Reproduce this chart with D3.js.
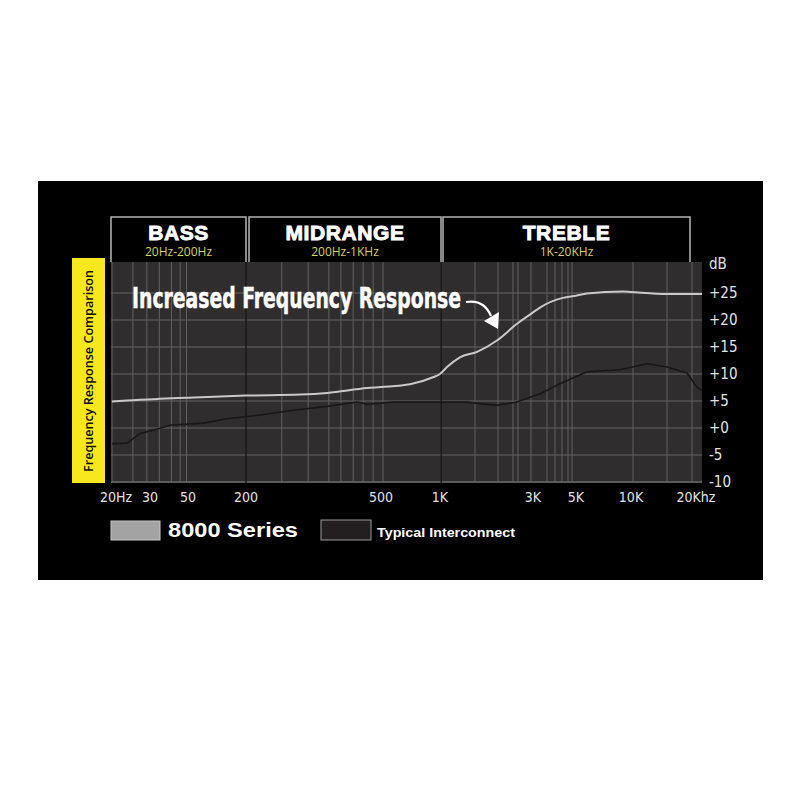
<!DOCTYPE html>
<html>
<head>
<meta charset="utf-8">
<script src="https://cdnjs.cloudflare.com/ajax/libs/d3/7.8.5/d3.min.js"></script>
<style>
body { margin: 0; background: #fff; }
</style>
</head>
<body>
<script>
// data
var freq8000 = [20, 23.5, 34, 50, 200, 289, 347, 455, 500, 703, 921, 1000, 1086, 1266, 1549, 1960, 2483, 3000, 3287, 4275, 5000, 5740, 9040, 10000, 15270, 20000, 22000]
var db8000 = [4.9, 5.1, 5.4, 5.6, 6.0, 6.2, 6.5, 7.4, 7.6, 8.1, 9.4, 10.0, 11.3, 13.1, 14.1, 16.2, 19.3, 21.4, 22.4, 24.1, 24.5, 24.9, 25.3, 25.2, 24.8, 24.8, 24.8]

var freqTypical = [20, 23.5, 27, 34, 39, 72, 127, 220, 275, 347, 425, 455, 576, 921, 1375, 1960, 2483, 3287, 4135, 5740, 8705, 12060, 15270, 19310, 21100, 22000]
var dbTypical = [-2.9, -2.8, -1.0, -0.1, 0.5, 0.9, 1.7, 2.4, 3.3, 4.0, 4.8, 4.4, 4.8, 4.8, 4.8, 4.2, 4.8, 6.4, 8.2, 10.4, 10.8, 11.9, 11.3, 10.2, 7.6, 7.0]

var xTickValues = [20, 30, 50, 200, 500, 1000, 3000, 5000, 10000, 20000]
var xTickLabels = ['20Hz', '30', '50', '200', '500', '1K', '3K', '5K', '10K', '20Khz']
var yTickValues = [-10, -5, 0, 5, 10, 15, 20, 25]
var yTickLabels = ['-10', '-5', '+0', '+5', '+10', '+15', '+20', '+25']

var gridFreqs = [20, 25, 29, 34, 40, 45, 49, 255, 305, 351, 381, 414, 443, 474, 512, 1512, 1984, 2368, 2512, 2929, 3543, 3897, 4234, 4547, 4770, 10240, 15270, 20320]
var bandLineFreqs = [200, 1015]

var bandNames = ['BASS', 'MIDRANGE', 'TREBLE']
var bandRanges = ['20Hz-200Hz', '200Hz-1KHz', '1K-20KHz']
var bandFrom = [20, 200, 1000]
var bandTo = [200, 1000, 20000]

var seriesNames = ['8000 Series', 'Typical Interconnect']

var body = d3.select('body')
body.selectAll('*').remove()

var svg = body.append('svg')
	.attr('width', 800)
	.attr('height', 800)

// black panel
svg.append('rect')
	.attr('x', 38).attr('y', 181)
	.attr('width', 725).attr('height', 399)
	.style('fill', '#000')

// scales (the picture's frequency axis is stretched piece by piece)
var xStops = [112, 150, 188, 246, 381, 440, 533, 576, 631, 690, 702]
var x = d3.scaleLog()
	.domain(xTickValues.concat([22000]))
	.range(xStops)

var y = d3.scaleLinear()
	.domain([-10, 30])
	.range([482, 266])

var plotLeft = 111, plotRight = 702, plotTop = 262, plotBottom = 483

// plot background
svg.append('rect')
	.attr('x', plotLeft).attr('y', plotTop)
	.attr('width', plotRight - plotLeft).attr('height', plotBottom - plotTop)
	.style('fill', '#2f2d2e')

// grid
var grid = svg.append('g')
grid.selectAll('.hgrid')
	.data(yTickValues)
	.enter().append('line')
	.attr('x1', plotLeft).attr('x2', plotRight)
	.attr('y1', function(d){ return y(d) })
	.attr('y2', function(d){ return y(d) })
	.attr('stroke', function(d){ return d == -10 ? '#8a8a8a' : '#676767' })
	.attr('stroke-width', 1.2)

grid.selectAll('.vgrid')
	.data(gridFreqs)
	.enter().append('line')
	.attr('x1', function(d){ return x(d) })
	.attr('x2', function(d){ return x(d) })
	.attr('y1', plotTop).attr('y2', plotBottom)
	.attr('stroke', '#626262')
	.attr('stroke-width', 1)

grid.selectAll('.bandline')
	.data(bandLineFreqs)
	.enter().append('line')
	.attr('x1', function(d){ return x(d) })
	.attr('x2', function(d){ return x(d) })
	.attr('y1', plotTop).attr('y2', plotBottom)
	.attr('stroke', '#1b1a1a')
	.attr('stroke-width', 1.5)

// header boxes
var bands = svg.append('g')
bandNames.forEach(function(name, i){
	var x0 = x(bandFrom[i]) + (i == 0 ? -1 : 3)
	var x1 = x(bandTo[i]) + (i == 1 ? 1 : 0)
	bands.append('path')
		.attr('d', 'M' + x0 + ',' + plotTop + 'V217H' + x1 + 'V' + plotTop)
		.attr('fill', 'none')
		.attr('stroke', '#b4b4b4')
		.attr('stroke-width', 1.5)
	bands.append('text')
		.attr('x', (x0 + x1) / 2).attr('y', 240)
		.attr('text-anchor', 'middle')
		.style('font-family', 'Liberation Sans, Arial, sans-serif')
		.style('font-weight', 'bold')
		.style('font-size', '21px')
		.style('letter-spacing', '0.6px')
		.style('fill', '#fff')
		.style('stroke', '#fff').style('stroke-width', 0.9)
		.text(name)
	bands.append('text')
		.attr('x', (x0 + x1) / 2).attr('y', 256)
		.attr('text-anchor', 'middle')
		.style('font-family', 'Open Sans, Liberation Sans, sans-serif')
		.style('font-size', '12px')
		.style('fill', '#d8d060')
		.text(bandRanges[i])
})

// curves
var line = d3.line()
	.x(function(d){ return x(d[0]) })
	.y(function(d){ return y(d[1]) })

svg.append('path')
	.datum(d3.zip(freqTypical, dbTypical))
	.attr('d', line.curve(d3.curveLinear))
	.attr('fill', 'none')
	.attr('stroke', '#191717')
	.attr('stroke-width', 1.6)

svg.append('path')
	.datum(d3.zip(freq8000, db8000))
	.attr('d', line.curve(d3.curveMonotoneX))
	.attr('fill', 'none')
	.attr('stroke', '#c9c9c9')
	.attr('stroke-width', 2)

// x labels
svg.selectAll('.xlab')
	.data(xTickValues)
	.enter().append('text')
	.attr('x', function(d, i){ return x(d) + (i == 0 ? 4 : 0) + (i == xTickValues.length - 1 ? 6 : 0) })
	.attr('y', 502)
	.attr('text-anchor', 'middle')
	.style('font-family', 'Liberation Sans Narrow, DejaVu Sans Condensed, sans-serif')
	.style('font-size', '14px')
	.style('fill', '#e2e2e2')
	.text(function(d, i){ return xTickLabels[i] })

// y labels
svg.selectAll('.ylab')
	.data(yTickValues)
	.enter().append('text')
	.attr('x', 709)
	.attr('y', function(d){ return y(d) })
	.attr('dy', '0.36em')
	.style('font-family', 'Liberation Sans Narrow, DejaVu Sans Condensed, sans-serif')
	.style('font-size', '15px')
	.style('fill', '#e2e2e2')
	.text(function(d, i){ return yTickLabels[i] })

svg.append('text')
	.attr('x', 709).attr('y', 269)
	.style('font-family', 'Liberation Sans Narrow, DejaVu Sans Condensed, sans-serif')
	.style('font-size', '15px')
	.style('fill', '#e2e2e2')
	.text('dB')

// yellow side label
svg.append('rect')
	.attr('x', 72).attr('y', 258)
	.attr('width', 33).attr('height', 225)
	.style('fill', '#f7e81e')

svg.append('text')
	.attr('transform', 'translate(93,371) rotate(-90)')
	.attr('text-anchor', 'middle')
	.attr('textLength', 202)
	.attr('lengthAdjust', 'spacingAndGlyphs')
	.style('font-family', 'Open Sans, Liberation Sans, sans-serif')
	.style('font-weight', 600)
	.style('font-size', '12px')
	.style('fill', '#111')
	.text('Frequency Response Comparison')

// annotation
svg.append('text')
	.attr('x', 132).attr('y', 308)
	.attr('textLength', 329)
	.attr('lengthAdjust', 'spacingAndGlyphs')
	.style('font-family', 'Liberation Sans Narrow, DejaVu Sans Condensed, sans-serif')
	.style('font-weight', 'bold')
	.style('font-size', '29px')
	.style('fill', '#fff')
	.style('stroke', '#fff').style('stroke-width', 0.5)
	.text('Increased Frequency Response')

svg.append('path')
	.attr('d', 'M466,302 Q484,299 491,316')
	.attr('fill', 'none')
	.attr('stroke', '#fff')
	.attr('stroke-width', 2.2)

svg.append('path')
	.attr('d', 'M484,321 L499,312 L498,329 Z')
	.style('fill', '#fff')

// legend
var legend = svg.append('g')
legend.append('rect')
	.attr('x', 111).attr('y', 521)
	.attr('width', 49).attr('height', 19)
	.style('fill', '#a3a3a3')
	.style('stroke', '#c8c8c8')

legend.append('text')
	.attr('x', 168).attr('y', 537)
	.attr('textLength', 130)
	.attr('lengthAdjust', 'spacingAndGlyphs')
	.style('font-family', 'Liberation Sans, Arial, sans-serif')
	.style('font-weight', 'bold')
	.style('font-size', '21px')
	.style('fill', '#fff')
	.text(seriesNames[0])

legend.append('rect')
	.attr('x', 321).attr('y', 520)
	.attr('width', 50).attr('height', 20)
	.style('fill', '#231f20')
	.style('stroke', '#9a9a9a')

legend.append('text')
	.attr('x', 377).attr('y', 537)
	.attr('textLength', 138)
	.attr('lengthAdjust', 'spacingAndGlyphs')
	.style('font-family', 'Liberation Sans, Arial, sans-serif')
	.style('font-weight', 'bold')
	.style('font-size', '12px')
	.style('fill', '#fff')
	.text(seriesNames[1])
</script>
</body>
</html>
